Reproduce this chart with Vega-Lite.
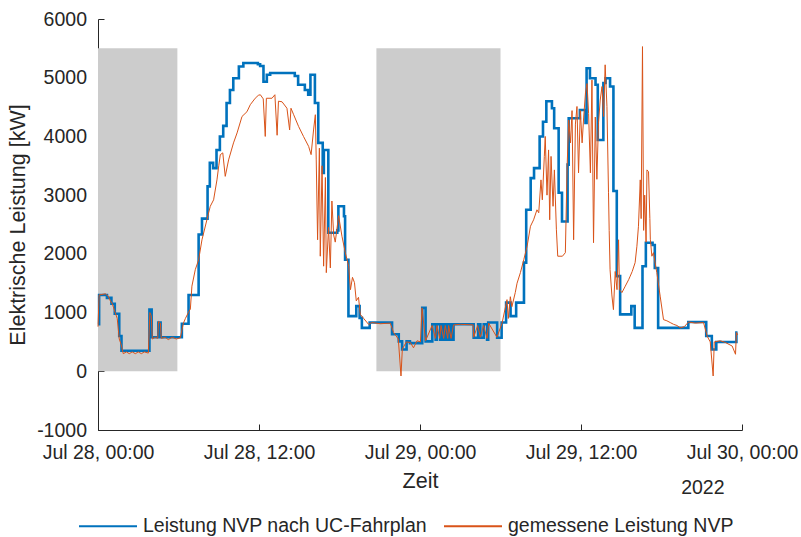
{
  "$schema": "https://vega.github.io/schema/vega-lite/v6.json",
  "width": 644,
  "height": 411,
  "autosize": {"type": "none"},
  "padding": {"left": 98, "top": 19, "right": 59, "bottom": 107},
  "background": "white",
  "config": {
    "view": {"stroke": null},
    "font": "Liberation Sans",
    "axis": {
      "grid": false,
      "domainColor": "#262626",
      "tickColor": "#262626",
      "labelColor": "#262626",
      "titleColor": "#262626",
      "labelFontSize": 19.5,
      "titleFontSize": 21.5,
      "titleFontWeight": "normal",
      "tickSize": -6,
      "domainWidth": 1,
      "tickWidth": 1
    }
  },
  "datasets": {
    "plan": [
      {"t": "2022-07-28T00:00", "v": 800},
      {"t": "2022-07-28T00:05", "v": 1300},
      {"t": "2022-07-28T00:40", "v": 1250},
      {"t": "2022-07-28T01:00", "v": 1150},
      {"t": "2022-07-28T01:15", "v": 980},
      {"t": "2022-07-28T01:35", "v": 600},
      {"t": "2022-07-28T01:45", "v": 350},
      {"t": "2022-07-28T03:50", "v": 1050},
      {"t": "2022-07-28T04:00", "v": 580},
      {"t": "2022-07-28T04:30", "v": 830},
      {"t": "2022-07-28T04:40", "v": 580},
      {"t": "2022-07-28T06:15", "v": 810},
      {"t": "2022-07-28T06:45", "v": 1300},
      {"t": "2022-07-28T07:30", "v": 2330},
      {"t": "2022-07-28T07:45", "v": 2600},
      {"t": "2022-07-28T08:10", "v": 3150},
      {"t": "2022-07-28T08:20", "v": 3550},
      {"t": "2022-07-28T08:35", "v": 3460},
      {"t": "2022-07-28T08:50", "v": 3770},
      {"t": "2022-07-28T09:05", "v": 4000},
      {"t": "2022-07-28T09:20", "v": 4180},
      {"t": "2022-07-28T09:35", "v": 4570},
      {"t": "2022-07-28T09:50", "v": 4790},
      {"t": "2022-07-28T10:05", "v": 4990},
      {"t": "2022-07-28T10:30", "v": 5190},
      {"t": "2022-07-28T10:50", "v": 5250},
      {"t": "2022-07-28T11:55", "v": 5230},
      {"t": "2022-07-28T12:05", "v": 5200},
      {"t": "2022-07-28T12:20", "v": 4930},
      {"t": "2022-07-28T12:35", "v": 5050},
      {"t": "2022-07-28T12:50", "v": 5080},
      {"t": "2022-07-28T14:40", "v": 5030},
      {"t": "2022-07-28T14:55", "v": 4880},
      {"t": "2022-07-28T15:25", "v": 4790},
      {"t": "2022-07-28T15:40", "v": 4710},
      {"t": "2022-07-28T15:50", "v": 5050},
      {"t": "2022-07-28T16:10", "v": 4570},
      {"t": "2022-07-28T16:25", "v": 3890},
      {"t": "2022-07-28T16:45", "v": 3380},
      {"t": "2022-07-28T16:50", "v": 3770},
      {"t": "2022-07-28T17:10", "v": 2360},
      {"t": "2022-07-28T17:50", "v": 2400},
      {"t": "2022-07-28T17:55", "v": 2810},
      {"t": "2022-07-28T18:20", "v": 2640},
      {"t": "2022-07-28T18:25", "v": 1900},
      {"t": "2022-07-28T18:40", "v": 940},
      {"t": "2022-07-28T19:15", "v": 1110},
      {"t": "2022-07-28T19:30", "v": 910},
      {"t": "2022-07-28T19:40", "v": 740},
      {"t": "2022-07-28T20:15", "v": 830},
      {"t": "2022-07-28T21:55", "v": 630},
      {"t": "2022-07-28T22:25", "v": 510},
      {"t": "2022-07-28T22:40", "v": 370},
      {"t": "2022-07-28T23:00", "v": 510},
      {"t": "2022-07-28T23:15", "v": 480},
      {"t": "2022-07-29T00:10", "v": 1080},
      {"t": "2022-07-29T00:25", "v": 510},
      {"t": "2022-07-29T00:55", "v": 800},
      {"t": "2022-07-29T01:10", "v": 540},
      {"t": "2022-07-29T01:15", "v": 800},
      {"t": "2022-07-29T01:30", "v": 540},
      {"t": "2022-07-29T01:35", "v": 800},
      {"t": "2022-07-29T01:45", "v": 540},
      {"t": "2022-07-29T01:55", "v": 800},
      {"t": "2022-07-29T02:05", "v": 540},
      {"t": "2022-07-29T02:10", "v": 800},
      {"t": "2022-07-29T02:20", "v": 540},
      {"t": "2022-07-29T02:30", "v": 800},
      {"t": "2022-07-29T04:00", "v": 570},
      {"t": "2022-07-29T04:20", "v": 800},
      {"t": "2022-07-29T04:30", "v": 570},
      {"t": "2022-07-29T04:45", "v": 800},
      {"t": "2022-07-29T05:00", "v": 540},
      {"t": "2022-07-29T05:05", "v": 830},
      {"t": "2022-07-29T05:45", "v": 570},
      {"t": "2022-07-29T06:05", "v": 830},
      {"t": "2022-07-29T06:25", "v": 1170},
      {"t": "2022-07-29T06:45", "v": 940},
      {"t": "2022-07-29T07:10", "v": 1170},
      {"t": "2022-07-29T07:45", "v": 1850},
      {"t": "2022-07-29T07:55", "v": 2750},
      {"t": "2022-07-29T08:15", "v": 3290},
      {"t": "2022-07-29T08:30", "v": 3460},
      {"t": "2022-07-29T08:55", "v": 4000},
      {"t": "2022-07-29T09:10", "v": 4250},
      {"t": "2022-07-29T09:25", "v": 4600},
      {"t": "2022-07-29T09:50", "v": 4480},
      {"t": "2022-07-29T10:00", "v": 4140},
      {"t": "2022-07-29T10:20", "v": 3040},
      {"t": "2022-07-29T10:35", "v": 2550},
      {"t": "2022-07-29T11:00", "v": 3520},
      {"t": "2022-07-29T11:05", "v": 4310},
      {"t": "2022-07-29T11:55", "v": 4450},
      {"t": "2022-07-29T12:20", "v": 4230},
      {"t": "2022-07-29T12:25", "v": 5160},
      {"t": "2022-07-29T12:40", "v": 4990},
      {"t": "2022-07-29T13:05", "v": 4880},
      {"t": "2022-07-29T13:15", "v": 3940},
      {"t": "2022-07-29T13:40", "v": 4910},
      {"t": "2022-07-29T13:50", "v": 4990},
      {"t": "2022-07-29T14:10", "v": 4850},
      {"t": "2022-07-29T14:25", "v": 3070},
      {"t": "2022-07-29T14:40", "v": 1620},
      {"t": "2022-07-29T14:55", "v": 970},
      {"t": "2022-07-29T15:45", "v": 1110},
      {"t": "2022-07-29T16:00", "v": 740},
      {"t": "2022-07-29T16:35", "v": 1790},
      {"t": "2022-07-29T16:50", "v": 2190},
      {"t": "2022-07-29T17:20", "v": 2150},
      {"t": "2022-07-29T17:30", "v": 1760},
      {"t": "2022-07-29T17:45", "v": 740},
      {"t": "2022-07-29T20:00", "v": 840},
      {"t": "2022-07-29T21:20", "v": 600},
      {"t": "2022-07-29T21:45", "v": 370},
      {"t": "2022-07-29T22:05", "v": 500},
      {"t": "2022-07-29T23:35", "v": 660},
      {"t": "2022-07-29T23:40", "v": 660}
    ],
    "mess": [
      {"t": "2022-07-28T00:00", "v": 760},
      {"t": "2022-07-28T00:05", "v": 1300},
      {"t": "2022-07-28T00:33", "v": 1320},
      {"t": "2022-07-28T00:46", "v": 1280},
      {"t": "2022-07-28T00:55", "v": 1200},
      {"t": "2022-07-28T01:04", "v": 1150},
      {"t": "2022-07-28T01:17", "v": 1000},
      {"t": "2022-07-28T01:26", "v": 900},
      {"t": "2022-07-28T01:35", "v": 550},
      {"t": "2022-07-28T01:44", "v": 450},
      {"t": "2022-07-28T01:53", "v": 300},
      {"t": "2022-07-28T02:07", "v": 330},
      {"t": "2022-07-28T02:20", "v": 300},
      {"t": "2022-07-28T02:33", "v": 330},
      {"t": "2022-07-28T02:47", "v": 300},
      {"t": "2022-07-28T03:00", "v": 330},
      {"t": "2022-07-28T03:14", "v": 300},
      {"t": "2022-07-28T03:27", "v": 330},
      {"t": "2022-07-28T03:45", "v": 310},
      {"t": "2022-07-28T03:52", "v": 1000},
      {"t": "2022-07-28T03:58", "v": 950},
      {"t": "2022-07-28T04:03", "v": 550},
      {"t": "2022-07-28T04:16", "v": 580},
      {"t": "2022-07-28T04:27", "v": 560},
      {"t": "2022-07-28T04:31", "v": 850},
      {"t": "2022-07-28T04:39", "v": 820},
      {"t": "2022-07-28T04:43", "v": 560},
      {"t": "2022-07-28T05:01", "v": 580},
      {"t": "2022-07-28T05:14", "v": 540},
      {"t": "2022-07-28T05:32", "v": 580},
      {"t": "2022-07-28T05:50", "v": 550},
      {"t": "2022-07-28T06:08", "v": 570},
      {"t": "2022-07-28T06:22", "v": 820},
      {"t": "2022-07-28T06:31", "v": 900},
      {"t": "2022-07-28T06:44", "v": 1000},
      {"t": "2022-07-28T06:53", "v": 1060},
      {"t": "2022-07-28T07:00", "v": 1450},
      {"t": "2022-07-28T07:15", "v": 1730},
      {"t": "2022-07-28T07:30", "v": 1900},
      {"t": "2022-07-28T07:45", "v": 2240},
      {"t": "2022-07-28T08:07", "v": 2580},
      {"t": "2022-07-28T08:22", "v": 2810},
      {"t": "2022-07-28T08:37", "v": 2920},
      {"t": "2022-07-28T08:52", "v": 3260},
      {"t": "2022-07-28T09:00", "v": 3500},
      {"t": "2022-07-28T09:07", "v": 3690},
      {"t": "2022-07-28T09:18", "v": 3720},
      {"t": "2022-07-28T09:29", "v": 3320},
      {"t": "2022-07-28T09:44", "v": 3600},
      {"t": "2022-07-28T10:06", "v": 3890},
      {"t": "2022-07-28T10:22", "v": 4060},
      {"t": "2022-07-28T10:44", "v": 4340},
      {"t": "2022-07-28T11:06", "v": 4420},
      {"t": "2022-07-28T11:21", "v": 4540},
      {"t": "2022-07-28T11:43", "v": 4650},
      {"t": "2022-07-28T11:57", "v": 4700},
      {"t": "2022-07-28T12:06", "v": 4710},
      {"t": "2022-07-28T12:19", "v": 4640},
      {"t": "2022-07-28T12:28", "v": 4000},
      {"t": "2022-07-28T12:33", "v": 4650},
      {"t": "2022-07-28T12:58", "v": 4650},
      {"t": "2022-07-28T13:11", "v": 4710},
      {"t": "2022-07-28T13:21", "v": 4020},
      {"t": "2022-07-28T13:27", "v": 4600},
      {"t": "2022-07-28T13:43", "v": 4590},
      {"t": "2022-07-28T14:05", "v": 4480},
      {"t": "2022-07-28T14:17", "v": 4110},
      {"t": "2022-07-28T14:23", "v": 4480},
      {"t": "2022-07-28T14:35", "v": 4370},
      {"t": "2022-07-28T14:57", "v": 4170},
      {"t": "2022-07-28T15:19", "v": 4000},
      {"t": "2022-07-28T15:42", "v": 3830},
      {"t": "2022-07-28T15:53", "v": 3690},
      {"t": "2022-07-28T16:04", "v": 4110},
      {"t": "2022-07-28T16:12", "v": 4370},
      {"t": "2022-07-28T16:16", "v": 3600},
      {"t": "2022-07-28T16:22", "v": 2240},
      {"t": "2022-07-28T16:30", "v": 3800},
      {"t": "2022-07-28T16:34", "v": 1960},
      {"t": "2022-07-28T16:42", "v": 3500},
      {"t": "2022-07-28T16:49", "v": 1790},
      {"t": "2022-07-28T16:57", "v": 3300},
      {"t": "2022-07-28T17:01", "v": 1680},
      {"t": "2022-07-28T17:11", "v": 2450},
      {"t": "2022-07-28T17:19", "v": 1760},
      {"t": "2022-07-28T17:26", "v": 2900},
      {"t": "2022-07-28T17:34", "v": 2320},
      {"t": "2022-07-28T17:41", "v": 2200},
      {"t": "2022-07-28T17:56", "v": 2650},
      {"t": "2022-07-28T18:11", "v": 2300},
      {"t": "2022-07-28T18:26", "v": 2020},
      {"t": "2022-07-28T18:41", "v": 1790},
      {"t": "2022-07-28T18:49", "v": 1390},
      {"t": "2022-07-28T18:58", "v": 1600},
      {"t": "2022-07-28T19:07", "v": 1510},
      {"t": "2022-07-28T19:15", "v": 1200},
      {"t": "2022-07-28T19:25", "v": 1260},
      {"t": "2022-07-28T19:33", "v": 970},
      {"t": "2022-07-28T19:48", "v": 900},
      {"t": "2022-07-28T20:10", "v": 800},
      {"t": "2022-07-28T20:25", "v": 830},
      {"t": "2022-07-28T21:02", "v": 810},
      {"t": "2022-07-28T21:47", "v": 820},
      {"t": "2022-07-28T22:02", "v": 660},
      {"t": "2022-07-28T22:23", "v": 550},
      {"t": "2022-07-28T22:35", "v": -80},
      {"t": "2022-07-28T22:41", "v": 380},
      {"t": "2022-07-28T22:59", "v": 500},
      {"t": "2022-07-28T23:17", "v": 490},
      {"t": "2022-07-28T23:31", "v": 400},
      {"t": "2022-07-28T23:47", "v": 520},
      {"t": "2022-07-29T00:02", "v": 500},
      {"t": "2022-07-29T00:09", "v": 1080},
      {"t": "2022-07-29T00:25", "v": 520},
      {"t": "2022-07-29T00:54", "v": 780},
      {"t": "2022-07-29T01:09", "v": 560},
      {"t": "2022-07-29T01:16", "v": 780},
      {"t": "2022-07-29T01:28", "v": 560},
      {"t": "2022-07-29T01:34", "v": 780},
      {"t": "2022-07-29T01:46", "v": 560},
      {"t": "2022-07-29T01:53", "v": 780},
      {"t": "2022-07-29T02:04", "v": 560},
      {"t": "2022-07-29T02:08", "v": 780},
      {"t": "2022-07-29T02:19", "v": 560},
      {"t": "2022-07-29T02:30", "v": 790},
      {"t": "2022-07-29T03:00", "v": 800},
      {"t": "2022-07-29T03:58", "v": 790},
      {"t": "2022-07-29T04:00", "v": 580},
      {"t": "2022-07-29T04:18", "v": 780},
      {"t": "2022-07-29T04:30", "v": 580},
      {"t": "2022-07-29T04:44", "v": 780},
      {"t": "2022-07-29T05:00", "v": 560},
      {"t": "2022-07-29T05:07", "v": 820},
      {"t": "2022-07-29T05:44", "v": 580},
      {"t": "2022-07-29T06:07", "v": 820},
      {"t": "2022-07-29T06:29", "v": 1220},
      {"t": "2022-07-29T06:35", "v": 900},
      {"t": "2022-07-29T06:44", "v": 1270},
      {"t": "2022-07-29T06:51", "v": 1100},
      {"t": "2022-07-29T07:06", "v": 1340},
      {"t": "2022-07-29T07:14", "v": 1500},
      {"t": "2022-07-29T07:29", "v": 1680},
      {"t": "2022-07-29T07:44", "v": 1900},
      {"t": "2022-07-29T07:59", "v": 2130},
      {"t": "2022-07-29T08:14", "v": 2470},
      {"t": "2022-07-29T08:28", "v": 2580},
      {"t": "2022-07-29T08:43", "v": 2750},
      {"t": "2022-07-29T08:51", "v": 2700},
      {"t": "2022-07-29T09:01", "v": 3260},
      {"t": "2022-07-29T09:07", "v": 2920},
      {"t": "2022-07-29T09:16", "v": 3660},
      {"t": "2022-07-29T09:20", "v": 4000},
      {"t": "2022-07-29T09:28", "v": 3000},
      {"t": "2022-07-29T09:35", "v": 3770},
      {"t": "2022-07-29T09:40", "v": 2580},
      {"t": "2022-07-29T09:46", "v": 3660},
      {"t": "2022-07-29T09:55", "v": 2810},
      {"t": "2022-07-29T10:01", "v": 3430},
      {"t": "2022-07-29T10:10", "v": 2410},
      {"t": "2022-07-29T10:16", "v": 1960},
      {"t": "2022-07-29T10:37", "v": 1960},
      {"t": "2022-07-29T10:50", "v": 2020},
      {"t": "2022-07-29T10:58", "v": 3490},
      {"t": "2022-07-29T11:05", "v": 4280},
      {"t": "2022-07-29T11:13", "v": 3890},
      {"t": "2022-07-29T11:20", "v": 4440},
      {"t": "2022-07-29T11:27", "v": 2240},
      {"t": "2022-07-29T11:35", "v": 4210},
      {"t": "2022-07-29T11:42", "v": 4510},
      {"t": "2022-07-29T11:49", "v": 3380},
      {"t": "2022-07-29T11:57", "v": 4440},
      {"t": "2022-07-29T12:05", "v": 3890},
      {"t": "2022-07-29T12:12", "v": 4330},
      {"t": "2022-07-29T12:20", "v": 4740},
      {"t": "2022-07-29T12:27", "v": 4900},
      {"t": "2022-07-29T12:34", "v": 4390},
      {"t": "2022-07-29T12:42", "v": 3380},
      {"t": "2022-07-29T12:49", "v": 4960},
      {"t": "2022-07-29T12:56", "v": 2190},
      {"t": "2022-07-29T13:04", "v": 4330},
      {"t": "2022-07-29T13:11", "v": 3270},
      {"t": "2022-07-29T13:18", "v": 4220},
      {"t": "2022-07-29T13:26", "v": 4620},
      {"t": "2022-07-29T13:34", "v": 4850},
      {"t": "2022-07-29T13:41", "v": 4340},
      {"t": "2022-07-29T13:48", "v": 5220},
      {"t": "2022-07-29T13:56", "v": 4510},
      {"t": "2022-07-29T14:03", "v": 3040},
      {"t": "2022-07-29T14:06", "v": 2400},
      {"t": "2022-07-29T14:10", "v": 1730},
      {"t": "2022-07-29T14:18", "v": 1300},
      {"t": "2022-07-29T14:25", "v": 1050},
      {"t": "2022-07-29T14:33", "v": 1700},
      {"t": "2022-07-29T14:41", "v": 1390},
      {"t": "2022-07-29T14:48", "v": 2240},
      {"t": "2022-07-29T14:52", "v": 1390},
      {"t": "2022-07-29T15:03", "v": 1340},
      {"t": "2022-07-29T15:18", "v": 1450},
      {"t": "2022-07-29T15:33", "v": 1560},
      {"t": "2022-07-29T15:40", "v": 1620},
      {"t": "2022-07-29T15:49", "v": 1700},
      {"t": "2022-07-29T16:02", "v": 1850},
      {"t": "2022-07-29T16:10", "v": 2130},
      {"t": "2022-07-29T16:17", "v": 2470},
      {"t": "2022-07-29T16:25", "v": 3260},
      {"t": "2022-07-29T16:29", "v": 2600},
      {"t": "2022-07-29T16:35", "v": 5530},
      {"t": "2022-07-29T16:40", "v": 2400},
      {"t": "2022-07-29T16:45", "v": 3000},
      {"t": "2022-07-29T16:51", "v": 2200},
      {"t": "2022-07-29T16:55", "v": 3430},
      {"t": "2022-07-29T17:02", "v": 3400},
      {"t": "2022-07-29T17:08", "v": 2600},
      {"t": "2022-07-29T17:10", "v": 2250},
      {"t": "2022-07-29T17:17", "v": 1960},
      {"t": "2022-07-29T17:24", "v": 2020},
      {"t": "2022-07-29T17:39", "v": 1680},
      {"t": "2022-07-29T17:54", "v": 1280},
      {"t": "2022-07-29T18:09", "v": 880},
      {"t": "2022-07-29T18:24", "v": 860},
      {"t": "2022-07-29T18:39", "v": 830},
      {"t": "2022-07-29T18:54", "v": 800},
      {"t": "2022-07-29T19:09", "v": 780},
      {"t": "2022-07-29T19:24", "v": 740},
      {"t": "2022-07-29T19:42", "v": 760},
      {"t": "2022-07-29T20:01", "v": 840},
      {"t": "2022-07-29T20:31", "v": 820},
      {"t": "2022-07-29T21:08", "v": 830},
      {"t": "2022-07-29T21:24", "v": 600},
      {"t": "2022-07-29T21:38", "v": 500},
      {"t": "2022-07-29T21:51", "v": -80},
      {"t": "2022-07-29T21:56", "v": 500},
      {"t": "2022-07-29T22:23", "v": 520},
      {"t": "2022-07-29T22:46", "v": 490},
      {"t": "2022-07-29T23:16", "v": 430},
      {"t": "2022-07-29T23:31", "v": 290},
      {"t": "2022-07-29T23:35", "v": 660},
      {"t": "2022-07-29T23:41", "v": 620}
    ]
  },
  "layer": [
    {
      "data": {
        "values": [
          {"t": "2022-07-28T00:00", "t2": "2022-07-28T05:55"},
          {"t": "2022-07-28T20:45", "t2": "2022-07-29T06:00"}
        ],
        "format": {"parse": {"t": "date", "t2": "date"}}
      },
      "mark": {"type": "rect", "color": "#cccccc"},
      "encoding": {
        "x": {
          "field": "t",
          "type": "temporal",
          "title": "Zeit",
          "scale": {"domain": [{"year": 2022, "month": 7, "date": 28, "hours": 0}, {"year": 2022, "month": 7, "date": 30, "hours": 0}]},
          "axis": {
            "values": [
              {"year": 2022, "month": 7, "date": 28, "hours": 0},
              {"year": 2022, "month": 7, "date": 28, "hours": 12},
              {"year": 2022, "month": 7, "date": 29, "hours": 0},
              {"year": 2022, "month": 7, "date": 29, "hours": 12},
              {"year": 2022, "month": 7, "date": 30, "hours": 0}
            ],
            "format": "%b %d, %H:%M",
            "labelPadding": 19.5,
            "labelFlush": false,
            "labelOverlap": false,
            "titleY": 51,
            "titleBaseline": "middle"
          }
        },
        "x2": {"field": "t2"},
        "y": {
          "datum": 0,
          "type": "quantitative",
          "title": "Elektrische Leistung [kW]",
          "scale": {"domain": [-1000, 6000], "nice": false, "zero": false},
          "axis": {
            "values": [-1000, 0, 1000, 2000, 3000, 4000, 5000, 6000],
            "labelExpr": "'' + datum.value",
            "labelPadding": 17.5,
            "titleX": -80,
            "titleY": 205.5,
            "titleBaseline": "middle"
          }
        },
        "y2": {"datum": 5500}
      }
    },
    {
      "data": {"name": "plan"},
      "mark": {"type": "line", "interpolate": "step-after", "strokeWidth": 2.6},
      "encoding": {
        "x": {"field": "t", "type": "temporal", "title": "Zeit"},
        "y": {"field": "v", "type": "quantitative", "title": "Elektrische Leistung [kW]"},
        "color": {
          "datum": "Leistung NVP nach UC-Fahrplan",
          "type": "nominal",
          "scale": {"domain": ["Leistung NVP nach UC-Fahrplan", "gemessene Leistung NVP"], "range": ["#0072BD", "#D95319"]},
          "legend": {
            "orient": "none",
            "legendX": -20,
            "legendY": 477,
            "direction": "horizontal",
            "title": null,
            "symbolType": "stroke",
            "symbolSize": 3364,
            "symbolStrokeWidth": 2,
            "labelFontSize": 19.5,
            "labelColor": "#262626",
            "labelLimit": 400,
            "columnPadding": 13,
            "labelOffset": 5,
            "padding": 0
          }
        }
      }
    },
    {
      "data": {"name": "mess"},
      "mark": {"type": "line", "strokeWidth": 1},
      "encoding": {
        "x": {"field": "t", "type": "temporal", "title": "Zeit"},
        "y": {"field": "v", "type": "quantitative", "title": "Elektrische Leistung [kW]"},
        "color": {"datum": "gemessene Leistung NVP", "type": "nominal"}
      }
    },
    {
      "data": {"values": [{"label": "2022"}]},
      "mark": {"type": "text", "fontSize": 19.5, "color": "#262626", "baseline": "middle", "align": "center"},
      "encoding": {
        "x": {"datum": {"year": 2022, "month": 7, "date": 29, "hours": 21, "minutes": 5}, "type": "temporal", "title": "Zeit"},
        "y": {"datum": -1990, "type": "quantitative", "title": "Elektrische Leistung [kW]"},
        "text": {"field": "label"}
      }
    }
  ]
}
